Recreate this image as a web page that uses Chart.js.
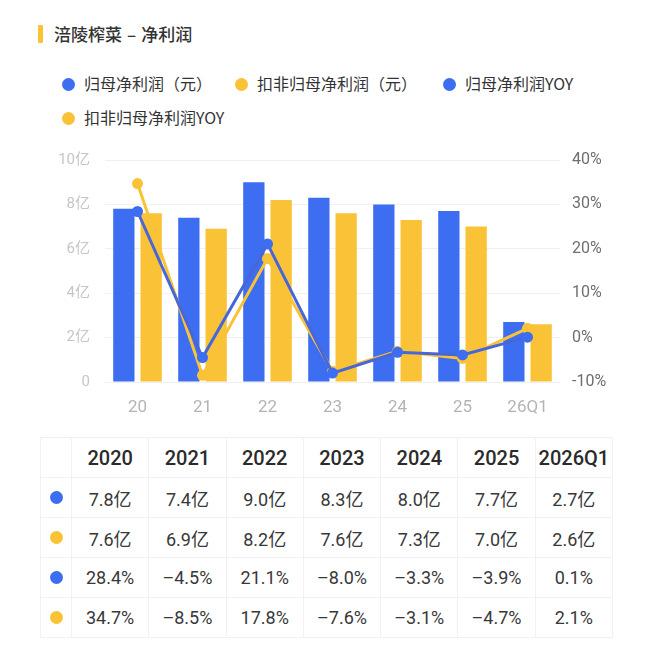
<!DOCTYPE html>
<html>
<head>
<meta charset="utf-8">
<script src="https://cdn.jsdelivr.net/npm/chart.js@4.4.1/dist/chart.umd.min.js"></script>
<style>
  body { margin: 0; background: #fff; font-family: "Noto Sans CJK SC", sans-serif; color: #333; }
  #page { position: relative; width: 650px; height: 650px; overflow: hidden; }
  .title-bar { position: absolute; left: 38px; top: 25px; width: 5px; height: 18px; background: #FAC337; border-radius: 1px; }
  .title { position: absolute; left: 54px; top: 22px; font-size: 17px; line-height: 24px; font-weight: 500; color: #333; }
  .title .dash { margin: 0 5px; }
  .legend-item { position: absolute; font-size: 16px; line-height: 20px; color: #333; white-space: nowrap; }
  .legend-item .dot { display: inline-block; width: 13px; height: 13px; border-radius: 50%; vertical-align: -1px; margin-right: 9px; }
  #chartBox { position: absolute; left: 40px; top: 136px; width: 590px; height: 289px; }
  table { position: absolute; left: 40px; top: 437px; border-collapse: collapse; table-layout: fixed; width: 573px; }
  td, th { border: 1px solid #f1f1f1; height: 39px; padding: 0; text-align: center; color: #383838;
           font-family: Roboto, "Noto Sans CJK SC", sans-serif; font-size: 18px; }
  th { font-size: 20px; font-weight: 500; color: #2b2b2b; }
  td.key { width: 30px; }
  td.key span { display: inline-block; width: 13px; height: 13px; border-radius: 50%; }
</style>
</head>
<body>
<div id="page">
  <div class="title-bar"></div>
  <div class="title">涪陵榨菜<span class="dash">–</span>净利润</div>
  <div id="legend"></div>
  <div id="chartBox"><canvas id="chart"></canvas></div>
  <table id="table"></table>
</div>
<script>
// -------------------------------
// Data
// -------------------------------
const categories = ["20", "21", "22", "23", "24", "25", "26Q1"];
const years = ["2020", "2021", "2022", "2023", "2024", "2025", "2026Q1"];
const netProfit = [7.8, 7.4, 9.0, 8.3, 8.0, 7.7, 2.7];          // 亿
const netProfitDeducted = [7.6, 6.9, 8.2, 7.6, 7.3, 7.0, 2.6];  // 亿
const netProfitYoy = [28.4, -4.5, 21.1, -8.0, -3.3, -3.9, 0.1]; // %
const deductedYoy = [34.7, -8.5, 17.8, -7.6, -3.1, -4.7, 2.1];  // %
const seriesNames = ["归母净利润（元）", "扣非归母净利润（元）", "归母净利润YOY", "扣非归母净利润YOY"];

const BLUE = "#3D6EF2";
const BLUE_LINE = "#4767D8";
const YELLOW = "#FAC337";

// -------------------------------
// Legend (html)
// -------------------------------
const legendPos = [[62, 73], [235, 73], [443, 73], [62, 107]];
const legendColors = [BLUE, YELLOW, BLUE, YELLOW];
const legend = document.getElementById("legend");
seriesNames.forEach((name, i) => {
  legend.innerHTML += `
    <div class="legend-item" style="left:${legendPos[i][0]}px;top:${legendPos[i][1]}px">
      <span class="dot" style="background:${legendColors[i]}"></span>${name}
    </div>`;
});

// -------------------------------
// Chart
// -------------------------------
const ctx = document.getElementById("chart").getContext("2d");
new Chart(ctx, {
  data: {
    labels: categories,
    datasets: [
      {
        type: "line", label: seriesNames[2], data: netProfitYoy, yAxisID: "y1", order: 1,
        borderColor: BLUE_LINE, backgroundColor: BLUE, borderWidth: 3,
        pointRadius: 5.5, pointBorderWidth: 0, tension: 0,
      },
      {
        type: "line", label: seriesNames[3], data: deductedYoy, yAxisID: "y1", order: 2,
        borderColor: YELLOW, backgroundColor: YELLOW, borderWidth: 3,
        pointRadius: 5.5, pointBorderWidth: 0, tension: 0,
      },
      {
        type: "bar", label: seriesNames[0], data: netProfit, yAxisID: "y", order: 3,
        backgroundColor: BLUE, categoryPercentage: 0.84, barPercentage: 0.78,
      },
      {
        type: "bar", label: seriesNames[1], data: netProfitDeducted, yAxisID: "y", order: 4,
        backgroundColor: YELLOW, categoryPercentage: 0.84, barPercentage: 0.78,
      },
    ],
  },
  options: {
    responsive: true,
    maintainAspectRatio: false,
    animation: false,
    layout: { padding: { top: 13 } },
    plugins: { legend: { display: false }, tooltip: { enabled: false } },
    scales: {
      x: {
        grid: { display: false },
        border: { display: false },
        ticks: { color: "#b4b4b4", padding: 8, font: { size: 17, family: "Roboto" } },
        afterFit: (axis) => { axis.height = 43; },
      },
      y: {
        position: "left",
        min: 0, max: 10,
        ticks: {
          stepSize: 2, padding: 15, color: "#c6c6c6",
          font: { size: 15, family: "Roboto, 'Noto Sans CJK SC'" },
          callback: (v) => (v === 0 ? "0" : v + "亿"),
        },
        grid: { color: "#f0f0f0", drawTicks: false },
        border: { display: false },
        afterFit: (axis) => { axis.width = 65; },
      },
      y1: {
        position: "right",
        min: -10, max: 40,
        ticks: {
          stepSize: 10, padding: 12, color: "#6e6e6e",
          font: { size: 16, family: "Roboto" },
          callback: (v) => v + "%",
        },
        grid: { display: false, drawTicks: false },
        border: { display: false },
        afterFit: (axis) => { axis.width = 70; },
      },
    },
  },
});

// -------------------------------
// Table
// -------------------------------
function fmtYi(v) { return v.toFixed(1) + "亿"; }
function fmtPct(v) { return (v < 0 ? "–" + Math.abs(v).toFixed(1) : v.toFixed(1)) + "%"; }

const rows = [
  [BLUE, netProfit.map(fmtYi)],
  [YELLOW, netProfitDeducted.map(fmtYi)],
  [BLUE, netProfitYoy.map(fmtPct)],
  [YELLOW, deductedYoy.map(fmtPct)],
];
const table = document.getElementById("table");
let html = `<tr><td class="key"></td>${years.map((y) => `<th>${y}</th>`).join("")}</tr>`;
rows.forEach(([color, cells]) => {
  html += `<tr><td class="key"><span style="background:${color}"></span></td>${cells.map((c) => `<td>${c}</td>`).join("")}</tr>`;
});
table.innerHTML = html;
</script>
</body>
</html>
